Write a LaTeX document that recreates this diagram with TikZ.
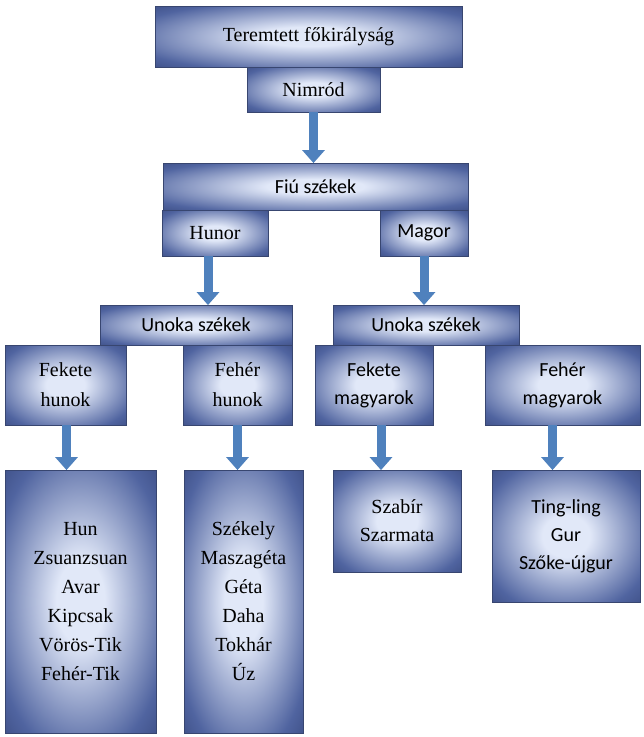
\documentclass[tikz,border=0pt]{standalone}
\usepackage{fontspec}
\setmainfont{Liberation Serif}
\newfontfamily\calibri{Carlito}
\usetikzlibrary{calc, positioning, arrows.meta}
\definecolor{boxdark}{RGB}{22,34,78}
\definecolor{boxmid}{RGB}{80,100,160}
\definecolor{boxlight}{RGB}{225,232,248}
\definecolor{arrowblue}{RGB}{79,129,189}
\definecolor{arrowedge}{RGB}{56,93,138}
\pgfdeclareradialshading{boxshade}{\pgfpoint{0bp}{0bp}}{color(0bp)=(boxlight); color(8bp)=(boxlight); color(30bp)=(boxmid); color(52bp)=(boxdark); color(100bp)=(boxdark)}
\tikzset{
  box/.style={draw=boxmid!70!black, line width=0.8pt, shading=boxshade, align=center,
    inner sep=2pt, font=\fontsize{20}{29}\selectfont},
  sbox/.style={box, font=\calibri\fontsize{20}{24}\selectfont},
  blockarrow/.style={draw=arrowblue, line width=9pt,
    -{Triangle[width=22pt,length=13pt]}, shorten >=-0.5pt}
}
\begin{document}
\begin{tikzpicture}[x=1pt, y=-1pt]
    \useasboundingbox (0,0) rectangle (644,737);
    % top
    \node[box, minimum width=307, minimum height=61] (teremtett) at (308.5,36.5) {Teremtett főkirályság};
    \node[box, minimum width=133, minimum height=45] (nimrod) at (313.5,89.5) {Nimród};
    \node[sbox, minimum width=305, minimum height=47] (fiu) at (315.5,186.5) {Fiú székek};
    \node[box, minimum width=106, minimum height=46] (hunor) at (215,233) {Hunor};
    \node[sbox, minimum width=88, minimum height=46] (magor) at (424,233) {Magor};
    % grandsons
    \node[sbox, minimum width=192, minimum height=40] (unokaL) at (196,325) {Unoka székek};
    \node[sbox, minimum width=186, minimum height=40] (unokaR) at (426,325) {Unoka székek};
    \node[box, minimum width=121, minimum height=80, font=\fontsize{20}{30}\selectfont] (feketeH) at (65.5,385) {Fekete\\hunok};
    \node[box, minimum width=109, minimum height=80, font=\fontsize{20}{30}\selectfont] (feherH) at (237.5,385) {Fehér\\hunok};
    \node[sbox, minimum width=118, minimum height=80, font=\calibri\fontsize{20}{28}\selectfont] (feketeM) at (374,385) {Fekete\\magyarok};
    \node[sbox, minimum width=155, minimum height=80, font=\calibri\fontsize{20}{28}\selectfont] (feherM) at (562.5,385) {Fehér\\magyarok};
    % peoples
    \node[box, minimum width=151, minimum height=263] (hunlist) at (80.5,601.5) {Hun\\Zsuanzsuan\\Avar\\Kipcsak\\Vörös-Tik\\Fehér-Tik};
    \node[box, minimum width=119, minimum height=263] (szekely) at (243.5,601.5) {Székely\\Maszagéta\\Géta\\Daha\\Tokhár\\Úz};
    \node[box, minimum width=128, minimum height=102, font=\fontsize{20}{28}\selectfont] (szabir) at (397,521) {Szabír\\Szarmata};
    \node[sbox, minimum width=148, minimum height=132, font=\calibri\fontsize{20}{28}\selectfont] (ting) at (566,536) {Ting-ling\\Gur\\Szőke-újgur};
    % arrows
    \draw[blockarrow] (nimrod.south) -- (nimrod.south |- fiu.north);
    \draw[blockarrow] ($(hunor.south)+(-7,0)$) -- ($(hunor.south |- unokaL.north)+(-7,0)$);
    \draw[blockarrow] (magor.south) -- (magor.south |- unokaR.north);
    \draw[blockarrow] ($(feketeH.south)+(1,0)$) -- ($(feketeH.south |- hunlist.north)+(1,0)$);
    \draw[blockarrow] (feherH.south) -- (feherH.south |- szekely.north);
    \draw[blockarrow] ($(feketeM.south)+(7,0)$) -- ($(feketeM.south |- szabir.north)+(7,0)$);
    \draw[blockarrow] ($(feherM.south)+(-10,0)$) -- ($(feherM.south |- ting.north)+(-10,0)$);
\end{tikzpicture}
\end{document}
